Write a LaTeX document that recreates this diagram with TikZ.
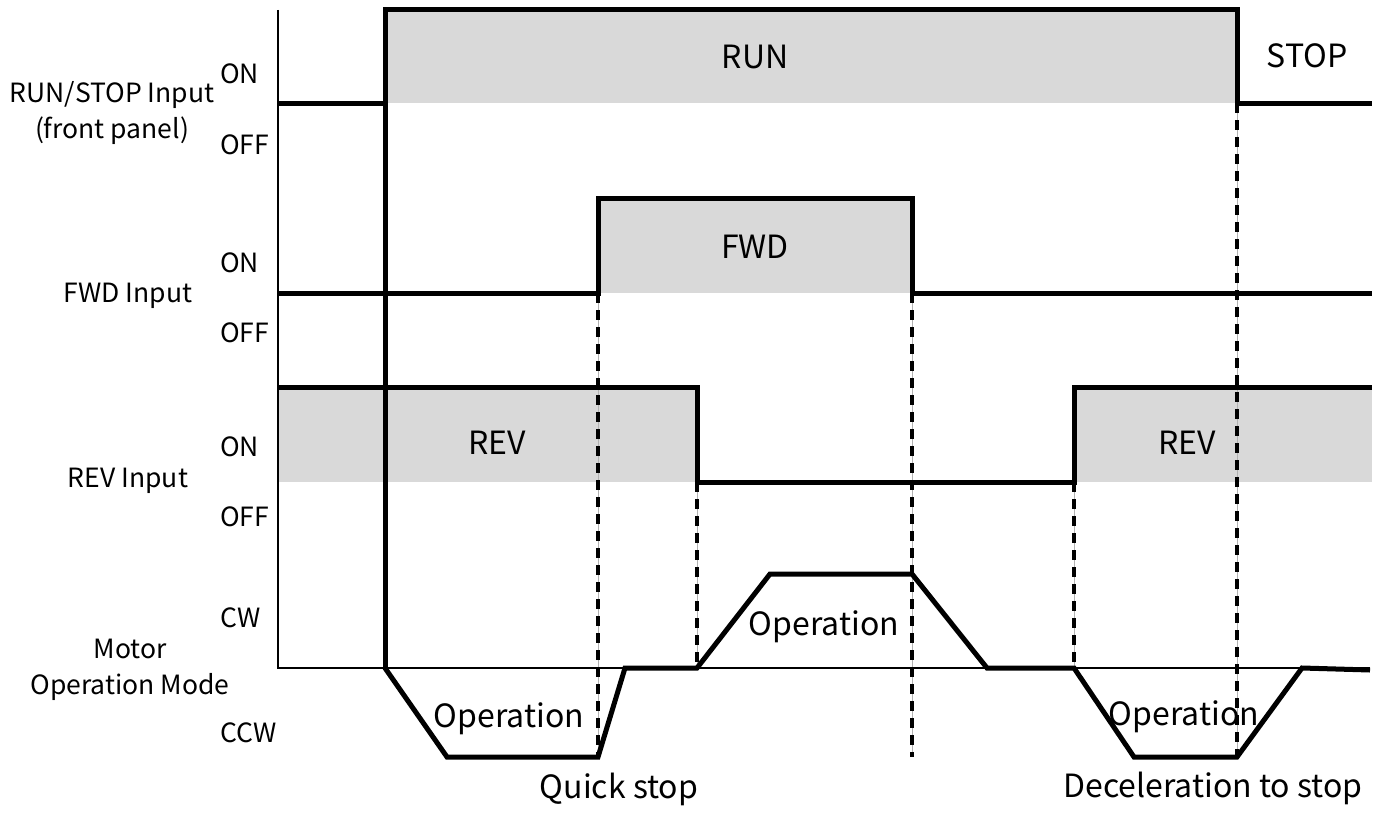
\documentclass[tikz,border=0pt]{standalone}
\usepackage{fontspec}
\setmainfont{Noto Sans CJK JP}
\usetikzlibrary{positioning}

\begin{document}
\begin{tikzpicture}[x=1pt, y=-1pt, line join=miter,
    wave/.style={line width=5pt},
    axis/.style={line width=1.8pt},
    guide/.style={black!30, line width=0.8pt},
    dsh/.style={dash pattern=on 10pt off 7pt, line width=3.5pt},
    hi/.style={fill=black!15},
    big/.style={font=\fontsize{32}{36}\selectfont, inner sep=0pt, anchor=base},
    side/.style={font=\fontsize{26.5}{36}\selectfont, inner sep=0pt, align=center, anchor=base},
    lvl/.style={font=\fontsize{26.5}{36}\selectfont, inner sep=0pt, anchor=base west}]
  \useasboundingbox (0,0) rectangle (1384,816);
  % shaded ON intervals
  \fill[hi] (385,10) rectangle (1237,103);
  \fill[hi] (598,198) rectangle (912,293);
  \fill[hi] (278,387) rectangle (697,482);
  \fill[hi] (1074,387) rectangle (1372,482);
  % timing guides
  \foreach \t/\a/\b in {598/293/757, 697/482/668, 912/293/757, 1074/482/668, 1237/103/757}{
    \draw[guide] (\t,\a) -- (\t,\b);
    \draw[dsh] (\t,\a) -- (\t,\b);
  }
  % axes
  \draw[axis] (278,10) -- (278,668) -- (1370,668);
  % signals
  \draw[wave] (278,103) -- (385,103) -- (385,10) -- (1237,10) -- (1237,103) -- (1372,103);
  \draw[wave] (385,103) -- (385,668);
  \draw[wave] (278,293) -- (598,293) -- (598,198) -- (912,198) -- (912,293) -- (1372,293);
  \draw[wave] (278,387) -- (697,387) -- (697,482) -- (1074,482) -- (1074,387) -- (1372,387);
  \draw[wave] (385,668) -- (447,757) -- (598,757) -- (625,668) -- (697,668) -- (770,574)
    -- (912,574) -- (987,668) -- (1074,668) -- (1134,757) -- (1237,757) -- (1302,668) -- (1370,670);
  % row labels
  \node[side] (runlbl) at (112,138) {RUN/STOP Input\\(front panel)};
  \node[side] (fwdlbl) at (128,302) {FWD Input};
  \node[side] (revlbl) at (128,487) {REV Input};
  \node[side] (motlbl) at (130,694) {Motor\\Operation Mode};
  \node[lvl] (on1) at (220,84) {ON};
  \node[lvl] (off1) at (220,154) {OFF};
  \node[lvl] (on2) at (220,272) {ON};
  \node[lvl] (off2) at (220,342) {OFF};
  \node[lvl] (on3) at (220,456) {ON};
  \node[lvl] (off3) at (220,526) {OFF};
  \node[lvl] (cw) at (220,627) {CW};
  \node[lvl] (ccw) at (220,742) {CCW};
  % interval labels
  \node[big] (run) at (755,68) {RUN};
  \node[big] (stop) at (1307,67) {STOP};
  \node[big] (fwd) at (755,258) {FWD};
  \node[big] (rev1) at (497,454) {REV};
  \node[big] (rev2) at (1187,454) {REV};
  \node[big] (opcw) at (824,635) {Operation};
  \node[big] (opccw1) at (509,727) {Operation};
  \node[big] (opccw2) at (1184,725) {Operation};
  \node[big] (quick) at (619,798) {Quick stop};
  \node[big] (decel) at (1213,797) {Deceleration to stop};
\end{tikzpicture}
\end{document}
